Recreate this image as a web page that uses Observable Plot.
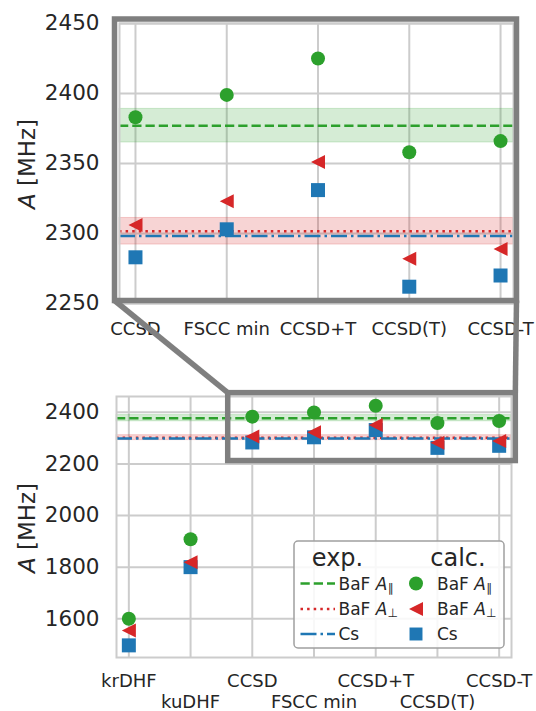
<!DOCTYPE html>
<html><head><meta charset="utf-8">
<script src="https://cdn.jsdelivr.net/npm/d3@7"></script>
<script src="https://cdn.jsdelivr.net/npm/@observablehq/plot@0.6"></script>
<style>
body{margin:0;background:#fff;}
#fig{position:relative;width:536px;height:711px;font-family:"DejaVu Sans",sans-serif;}
#fig > svg{position:absolute;left:0;}
</style></head><body><div id="fig"></div>
<script>
// ---- data ----
const methods = ["krDHF", "kuDHF", "CCSD", "FSCC min", "CCSD+T", "CCSD(T)", "CCSD-T"];
const calcBaFpar  = [1600, 1908, 2383, 2399, 2425, 2358, 2366];
const calcBaFperp = [1555, 1819, 2306, 2323, 2351, 2282, 2289];
const calcCs      = [1497, 1800, 2283, 2303, 2331, 2262, 2270];
const expNames  = ["BaF A∥", "BaF A⊥", "Cs"];
const expValues = [2377, 2301.6, 2298.2];
const expErrors = [12, 9.5, 0];
const insetYTicks = [2250, 2300, 2350, 2400, 2450];
const mainYTicks  = [1600, 1800, 2000, 2200, 2400];
const insetXDomain = [1.825, 6.142];
const insetYDomain = [2250, 2450];
const mainXDomain = [-0.2, 6.2];
const mainYDomain = [1450, 2461];
const zoomBoxX = [1.61, 6.27];
const zoomBoxY = [2211, 2474];

// ---- styles ----
const FONT = "DejaVu Sans";
const GREEN = "#2ca02c", RED = "#d62728", BLUE = "#1f77b4";
const GRID = "#cccccc", TEXT = "#262626", FRAME = "#7f7f7f";
const LW = 2.5;
const DASH = "9.25,4", DOT = "2.5,4.1", DASHDOT = "16,4,2.5,4";

const symLeft = {draw(c, size){const r = Math.sqrt(size/Math.PI); c.moveTo(-r,0); c.lineTo(r,-r); c.lineTo(r,r); c.closePath();}};
const symSq = {draw(c, size){const r = Math.sqrt(size/Math.PI); c.rect(-r,-r,2*r,2*r);}};

const idx = methods.map((_, i) => i);
const pts = vals => idx.map(i => ({i, v: vals[i]}));
const exp = expNames.map((n, k) => ({name: n, v: expValues[k], lo: expValues[k] - expErrors[k], hi: expValues[k] + expErrors[k]}));

function chart(o) {
  const keep = d => d.i >= o.first;
  const axesX = o.xRows.map(r => Plot.axisX(r.ticks, {tickFormat: i => methods[i], tickSize: 0, tickPadding: r.pad, fontSize: 18, label: null}));
  return Plot.plot({
    width: 536, height: o.height,
    marginLeft: o.ml, marginRight: o.mr, marginTop: o.mt, marginBottom: o.mb,
    x: {domain: o.xd, axis: null},
    y: {domain: o.yd, axis: null},
    style: {fontFamily: FONT, color: TEXT, background: "transparent", overflow: "visible"},
    marks: [
      Plot.gridX(idx.filter(i => i >= o.first), {stroke: GRID, strokeOpacity: 1, strokeWidth: 2}),
      Plot.gridY(o.yt, {stroke: GRID, strokeOpacity: 1, strokeWidth: 2}),
      Plot.rect([exp[0]], {y1: "lo", y2: "hi", fill: GREEN, fillOpacity: 0.2, stroke: GREEN, strokeOpacity: 0.2, strokeWidth: 1}),
      Plot.rect([exp[1]], {y1: "lo", y2: "hi", fill: RED, fillOpacity: 0.2, stroke: RED, strokeOpacity: 0.2, strokeWidth: 1}),
      Plot.ruleY([exp[0]], {y: "v", stroke: GREEN, strokeWidth: LW, strokeDasharray: DASH}),
      Plot.ruleY([exp[1]], {y: "v", stroke: RED, strokeWidth: LW, strokeDasharray: DOT}),
      Plot.ruleY([exp[2]], {y: "v", stroke: BLUE, strokeWidth: LW, strokeDasharray: DASHDOT}),
      Plot.frame({stroke: GRID, strokeWidth: 2}),
      Plot.dot(pts(calcCs).filter(keep), {x: "i", y: "v", symbol: symSq, r: 7, fill: BLUE, stroke: "none", clip: true}),
      Plot.dot(pts(calcBaFperp).filter(keep), {x: "i", y: "v", symbol: symLeft, r: 7, fill: RED, stroke: "none", clip: true}),
      Plot.dot(pts(calcBaFpar).filter(keep), {x: "i", y: "v", symbol: "circle", r: 7, fill: GREEN, stroke: "none", clip: true}),
      Plot.axisY(o.yt, {tickSize: 0, tickPadding: o.ypad, fontSize: 21.5, tickFormat: d => String(d), label: null}),
      ...axesX
    ]
  });
}

const fig = document.getElementById("fig");

const insetPlot = chart({
  height: 345, ml: 119, mr: 23, mt: 23, mb: 42,
  xd: insetXDomain, yd: insetYDomain, yt: insetYTicks, first: 2, ypad: 20,
  xRows: [{ticks: [2, 3, 4, 5, 6], pad: 19}]
});
insetPlot.style.top = "0px";
fig.appendChild(insetPlot);

const BOT_TOP = 360;
const mainPlot = chart({
  height: 351, ml: 116, mr: 25, mt: 36, mb: 54,
  xd: mainXDomain, yd: mainYDomain, yt: mainYTicks, first: 0, ypad: 17,
  xRows: [{ticks: [0, 2, 4, 6], pad: 17}, {ticks: [1, 3, 5], pad: 38}]
});
mainPlot.style.top = BOT_TOP + "px";
fig.appendChild(mainPlot);

// ---- overlay: zoom frame, connectors, legend, axis labels ----
const svg = d3.create("svg").attr("width", 536).attr("height", 711)
  .style("position", "absolute").style("left", 0).style("top", 0)
  .style("font-family", FONT).style("overflow", "visible");

const tx = insetPlot.scale("x"), ty = insetPlot.scale("y");
const bx = mainPlot.scale("x"), by = mainPlot.scale("y");
const L = tx.apply(insetXDomain[0]) - 4.5, R = tx.apply(insetXDomain[1]) + 3.5;
const T = ty.apply(insetYDomain[1]) - 4, B = ty.apply(insetYDomain[0]) - 2.5;
svg.append("rect").attr("x", L).attr("y", T).attr("width", R - L).attr("height", B - T)
  .attr("fill", "none").attr("stroke", FRAME).attr("stroke-width", 5.5);

const zx0 = bx.apply(zoomBoxX[0]), zx1 = bx.apply(zoomBoxX[1]);
const zy0 = BOT_TOP + by.apply(zoomBoxY[1]), zy1 = BOT_TOP + by.apply(zoomBoxY[0]);
svg.append("rect").attr("x", zx0).attr("y", zy0).attr("width", zx1 - zx0).attr("height", zy1 - zy0)
  .attr("fill", "none").attr("stroke", FRAME).attr("stroke-width", 5.5);
svg.append("line").attr("x1", L).attr("y1", B).attr("x2", zx0).attr("y2", zy0)
  .attr("stroke", FRAME).attr("stroke-width", 5.5);
svg.append("line").attr("x1", R).attr("y1", B).attr("x2", zx1).attr("y2", zy0)
  .attr("stroke", FRAME).attr("stroke-width", 5.5);

// y-axis labels
function ylabel(cy) {
  const t = svg.append("text").attr("transform", `translate(27,${cy}) rotate(-90)`)
    .attr("text-anchor", "middle").attr("dominant-baseline", "central")
    .attr("font-size", 23).attr("fill", TEXT);
  t.append("tspan").attr("font-style", "italic").text("A");
  t.append("tspan").text(" [MHz]");
}
ylabel(164);
ylabel(528);

// legend
const lg = svg.append("g");
lg.append("rect").attr("x", 294).attr("y", 541).attr("width", 210).attr("height", 107).attr("rx", 4)
  .attr("fill", "#fff").attr("fill-opacity", 0.85).attr("stroke", "#a0a0a0").attr("stroke-width", 1.5);
lg.append("text").attr("x", 337.5).attr("y", 557.5).attr("text-anchor", "middle").attr("dominant-baseline", "central")
  .attr("font-size", 24).attr("fill", TEXT).text("exp.");
lg.append("text").attr("x", 458).attr("y", 557.5).attr("text-anchor", "middle").attr("dominant-baseline", "central")
  .attr("font-size", 24).attr("fill", TEXT).text("calc.");
const rowsY = [583.5, 609, 634];
const lineStyles = [[GREEN, DASH], [RED, DOT], [BLUE, DASHDOT]];
function label(g, x, y, k) {
  const t = g.append("text").attr("x", x).attr("y", y).attr("dominant-baseline", "central")
    .attr("font-size", 17).attr("fill", TEXT);
  if (k < 2) {
    t.append("tspan").text("BaF ");
    t.append("tspan").attr("font-style", "italic").text("A");
    t.append("tspan").attr("font-size", 12).attr("dy", 4).text(k === 0 ? "∥" : "⊥");
  } else {
    t.text("Cs");
  }
}
rowsY.forEach((y, k) => {
  lg.append("line").attr("x1", 300.5).attr("x2", 335).attr("y1", y).attr("y2", y)
    .attr("stroke", lineStyles[k][0]).attr("stroke-width", LW).attr("stroke-dasharray", lineStyles[k][1]);
  label(lg, 338.5, y, k);
  label(lg, 437, y, k);
});
lg.append("circle").attr("cx", 416).attr("cy", rowsY[0]).attr("r", 7).attr("fill", GREEN);
lg.append("path").attr("transform", `translate(416,${rowsY[1]})`).attr("d", d3.symbol(symLeft).size(Math.PI * 49)()).attr("fill", RED);
lg.append("path").attr("transform", `translate(416,${rowsY[2]})`).attr("d", d3.symbol(symSq).size(Math.PI * 42)()).attr("fill", BLUE);

fig.appendChild(svg.node());
</script>
</body></html>
